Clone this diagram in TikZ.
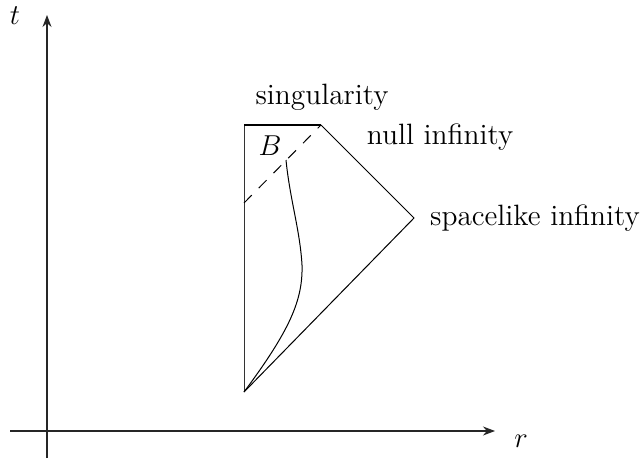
\documentclass[tikz,border=0pt]{standalone}
\usetikzlibrary{arrows.meta}
\begin{document}
\begin{tikzpicture}[x=0.5pt,y=-0.5pt,
  axis/.style={line width=0.6pt,draw=black!85,-{Stealth[length=6pt,width=4.5pt]}},
  edge/.style={line width=0.5pt},
  lbl/.style={font=\fontsize{14.7}{17}\selectfont,inner sep=0pt}]
\useasboundingbox (0,0) rectangle (644,466);
% axes
\coordinate (tb) at (47,458);
\coordinate (tt) at (47,15);
\coordinate (rl) at (10,431);
\coordinate (rr) at (495,431);
\draw[axis] (tb) -- (tt);
\draw[axis] (rl) -- (rr);
\node[lbl] (t) at (15,16) {$t$};
\node[lbl] (r) at (521,441) {$r$};
% diagram corners
\coordinate (O) at (244,392);
\coordinate (TL) at (244,125);
\coordinate (TR) at (321,125);
\coordinate (S) at (414,218);
\coordinate (D) at (244,203);
\coordinate (C) at (286,160);
\draw[edge,draw=black!80] (O) -- (TL);
\draw[line width=1.1pt] (TL) -- (TR);
\draw[edge] (TR) -- (S) -- (O);
\draw[edge,dashed,dash pattern=on 5.5pt off 5pt] (D) -- (TR);
\draw[edge] (O) .. controls (290,330) and (303,300) .. (302,265)
  .. controls (300,230) and (290,200) .. (C);
% labels
\node[lbl] (sing) at (322,97) {singularity};
\node[lbl] (null) at (440,137) {null infinity};
\node[lbl] (space) at (535,218) {spacelike infinity};
\node[lbl] (B) at (270,146) {$B$};
\end{tikzpicture}
\end{document}
